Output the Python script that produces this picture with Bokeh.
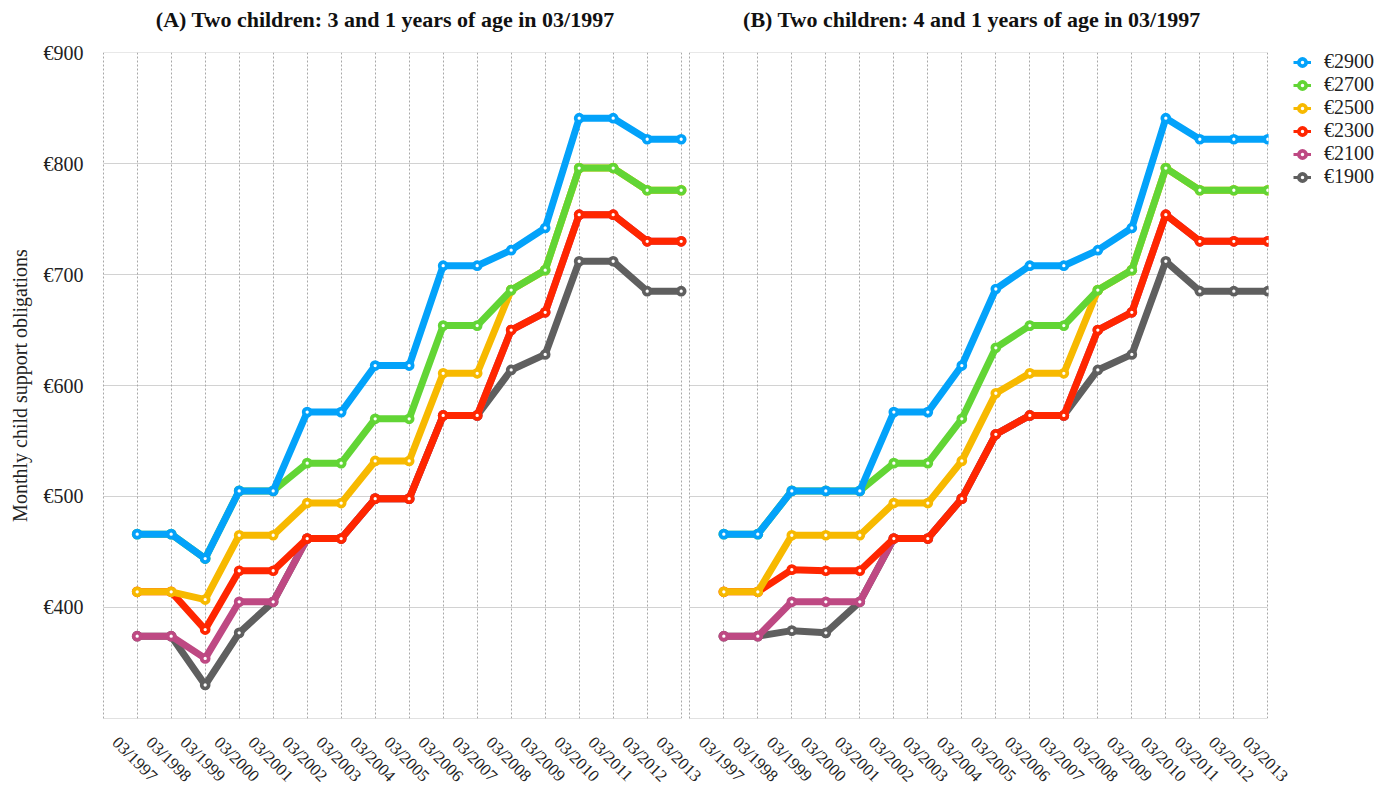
import math
from bokeh.plotting import figure
from bokeh.models import (Range1d, FixedTicker, Grid, PrintfTickFormatter, LinearAxis, AllLabels,
                          Label, ColumnDataSource, Legend, LegendItem)
from bokeh.embed import file_html
from bokeh.resources import INLINE

# ---------------- data ----------------
years = [1997, 1998, 1999, 2000, 2001, 2002, 2003, 2004, 2005,
         2006, 2007, 2008, 2009, 2010, 2011, 2012, 2013]
tick_labels = ["03/1997", "03/1998", "03/1999", "03/2000", "03/2001", "03/2002",
               "03/2003", "03/2004", "03/2005", "03/2006", "03/2007", "03/2008",
               "03/2009", "03/2010", "03/2011", "03/2012", "03/2013"]
income_labels = ["€2900", "€2700", "€2500", "€2300", "€2100", "€1900"]
y_ticks = [400, 500, 600, 700, 800, 900]
y_title = "Monthly child support obligations"
title_a = "(A) Two children: 3 and 1 years of age in 03/1997"
title_b = "(B) Two children: 4 and 1 years of age in 03/1997"

# Panel A
a_2900 = [466, 466, 444, 505, 505, 576, 576, 618, 618, 708, 708, 722, 742, 841, 841, 822, 822]
a_2700 = [466, 466, 444, 505, 505, 530, 530, 570, 570, 654, 654, 686, 704, 796, 796, 776, 776]
a_2500 = [414, 414, 407, 465, 465, 494, 494, 532, 532, 611, 611, 686, 704, 796, 796, 776, 776]
a_2300 = [414, 414, 380, 433, 433, 462, 462, 498, 498, 573, 573, 650, 666, 754, 754, 730, 730]
a_2100 = [374, 374, 354, 405, 405, 462, 462, 498, 498, 573, 573, 650, 666, 754, 754, 730, 730]
a_1900 = [374, 374, 330, 377, 405, 462, 462, 498, 498, 573, 573, 614, 628, 712, 712, 685, 685]

# Panel B
b_2900 = [466, 466, 505, 505, 505, 576, 576, 618, 687, 708, 708, 722, 742, 841, 822, 822, 822]
b_2700 = [466, 466, 505, 505, 505, 530, 530, 570, 634, 654, 654, 686, 704, 796, 776, 776, 776]
b_2500 = [414, 414, 465, 465, 465, 494, 494, 532, 593, 611, 611, 686, 704, 796, 776, 776, 776]
b_2300 = [414, 414, 434, 433, 433, 462, 462, 498, 556, 573, 573, 650, 666, 754, 730, 730, 730]
b_2100 = [374, 374, 405, 405, 405, 462, 462, 498, 556, 573, 573, 650, 666, 754, 730, 730, 730]
b_1900 = [374, 374, 379, 377, 405, 462, 462, 498, 556, 573, 573, 614, 628, 712, 685, 685, 685]

series_a = [a_2900, a_2700, a_2500, a_2300, a_2100, a_1900]
series_b = [b_2900, b_2700, b_2500, b_2300, b_2100, b_1900]

# ---------------- style ----------------
colors = ["#03A2FA", "#62D535", "#F7B900", "#FF2600", "#BE4983", "#5F5F5F"]
SERIF = "Liberation Serif"
UNIT = 34          # px per year
GAP = 10           # px between the two panels
N = len(years)
FRAME_W = 2 * N * UNIT + GAP
FRAME_H = 666
EPS = 0.02

span_units = FRAME_W / UNIT
first = years[0] - 1
last = years[-1]
y_lo, y_hi = 300, 900

p = figure(frame_width=FRAME_W, frame_height=FRAME_H,
           min_border_left=102, min_border_right=104, min_border_top=52, min_border_bottom=60,
           x_range=Range1d(first - EPS, first - EPS + span_units),
           y_range=Range1d(y_lo - 0.2, y_hi + 0.2),
           x_axis_location=None, output_backend="svg", toolbar_location=None,
           background_fill_color="white", border_fill_color="white")
p.extra_x_ranges = {"B": Range1d(last + EPS - span_units, last + EPS)}
p.outline_line_color = None
for g in p.grid:
    g.visible = False

# y axis
yax = p.yaxis[0]
yax.ticker = FixedTicker(ticks=y_ticks)
yax.formatter = PrintfTickFormatter(format="€%d")
yax.axis_line_color = None
yax.major_tick_line_color = None
yax.minor_tick_line_color = None
yax.major_tick_out = 0
yax.major_tick_in = 0
yax.minor_tick_out = 0
yax.minor_tick_in = 0
yax.major_label_standoff = 19
yax.major_label_text_font = SERIF
yax.major_label_text_font_size = "20px"
yax.major_label_text_color = "#222222"
yax.axis_label = y_title
yax.axis_label_text_font = SERIF
yax.axis_label_text_font_size = "20px"
yax.axis_label_text_font_style = "normal"
yax.axis_label_text_color = "#222222"
yax.axis_label_standoff = 10

# x axis: one axis carrying the labels of both panels (panel B ticks mapped to panel A units)
offset_b = p.x_range.start - p.extra_x_ranges["B"].start
label_shift = 0.65   # rotated labels are drawn centred under each tick
x_label_pos = [y - label_shift for y in years] + [y + offset_b - label_shift for y in years]
xax = LinearAxis(ticker=FixedTicker(ticks=x_label_pos),
                 major_label_overrides=dict(zip(x_label_pos, tick_labels + tick_labels)),
                 major_label_policy=AllLabels(),
                 major_label_orientation=-math.pi / 4,
                 major_label_standoff=21,
                 major_label_text_font=SERIF, major_label_text_font_size="17px",
                 major_label_text_color="#222222",
                 axis_line_color=None, major_tick_line_color=None, minor_tick_line_color=None,
                 major_tick_out=0, major_tick_in=0, minor_tick_out=0, minor_tick_in=0)
p.add_layout(xax, "below")

grid_years = [first] + years
for rng in ["default", "B"]:
    p.add_layout(Grid(dimension=1, ticker=FixedTicker(ticks=y_ticks), x_range_name=rng,
                      cross_bounds=(first, last),
                      grid_line_color="#d2d2d2", grid_line_width=1))
    p.add_layout(Grid(dimension=1, ticker=FixedTicker(ticks=[y_lo]), x_range_name=rng,
                      cross_bounds=(first, last),
                      grid_line_color="#888888", grid_line_dash="1 1", grid_line_width=1))
    p.add_layout(Grid(dimension=0, ticker=FixedTicker(ticks=grid_years), x_range_name=rng,
                      grid_line_color="#a8a8a8", grid_line_dash="2 2", grid_line_width=1))

legend_items = []
for series, rng in [(series_a, "default"), (series_b, "B")]:
    for i in reversed(range(len(series))):
        src = ColumnDataSource(dict(x=years, y=series[i]))
        p.line("x", "y", source=src, x_range_name=rng, line_color=colors[i], line_width=7,
               line_join="round", line_cap="round")
        sc = p.scatter("x", "y", source=src, x_range_name=rng, size=7, marker="circle",
                       fill_color="white", line_color=colors[i], line_width=3.7)
        if rng == "default":
            ll = p.line("x", "y", source=src, line_color=colors[i], line_width=3, visible=False)
            legend_items.append((i, LegendItem(label=income_labels[i], renderers=[ll, sc])))

legend_items.sort(key=lambda t: t[0])
ITEM_H = 22
legend = Legend(items=[it for _, it in legend_items],
                location=(25, FRAME_H - len(income_labels) * ITEM_H - 4),
                border_line_color=None, background_fill_alpha=0,
                label_text_font=SERIF, label_text_font_size="20px", label_text_color="#222222",
                glyph_width=18, glyph_height=ITEM_H, label_height=ITEM_H, spacing=0,
                padding=0, margin=0, label_standoff=13)
p.add_layout(legend, "right")

# panel titles
mid = (first + last) / 2 - 7 / UNIT
for txt, rng in [(title_a, "default"), (title_b, "B")]:
    p.add_layout(Label(x=mid, y=y_hi, x_range_name=rng, y_offset=33,
                       text=txt, text_align="center", text_baseline="middle",
                       text_font=SERIF, text_font_size="22px", text_font_style="bold",
                       text_color="#111111"), "above")

open("out.html", "w").write(file_html(p, INLINE))
